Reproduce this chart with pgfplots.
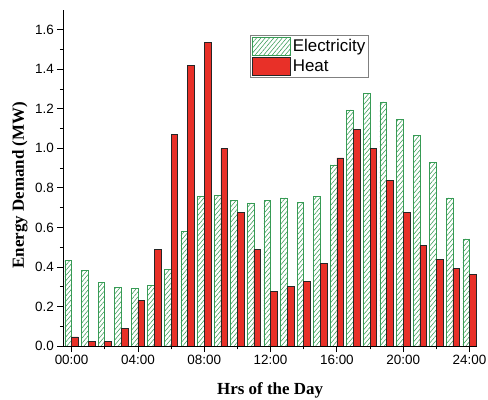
\documentclass[border=0pt]{standalone}
\usepackage{fontspec}
\setmainfont{Liberation Sans}
\newfontfamily\timesfont{Liberation Serif}
\usepackage{pgfplots}
\usepackage{pgfplotstable}
\pgfplotsset{compat=1.18}
\usetikzlibrary{patterns.meta}
\definecolor{elgreen}{RGB}{55,155,85}
\definecolor{heatred}{RGB}{232,48,40}
\pgfplotstableread{
hour elec heat
0 0.435 0.046
1 0.381 0.022
2 0.321 0.022
3 0.295 0.091
4 0.290 0.231
5 0.307 0.489
6 0.388 1.070
7 0.581 1.418
8 0.756 1.536
9 0.761 0.999
10 0.738 0.675
11 0.724 0.489
12 0.737 0.278
13 0.749 0.302
14 0.727 0.326
15 0.758 0.419
16 0.916 0.952
17 1.195 1.094
18 1.279 0.999
19 1.235 0.837
20 1.146 0.675
21 1.067 0.511
22 0.930 0.440
23 0.749 0.393
24 0.542 0.363
}\datatable
\begin{document}
\begin{tikzpicture}
\useasboundingbox (0,0) rectangle (488bp,400bp);
\begin{axis}[
  at={(63.3bp,54bp)}, anchor=south west,
  scale only axis, width=413.7bp, height=336bp,
  xmin=-0.5, xmax=24.45, ymin=0, ymax=1.70,
  ybar, bar width=6.7bp,
  legend image code/.code={\draw[#1] (0bp,-8.8bp) rectangle (38bp,8.8bp);},
  axis lines=left, axis line style={-, line width=0.8pt},
  tick align=outside,
  tick style={black, line width=0.8pt},
  major tick length=6bp, minor tick length=3.3bp,
  xtick={0,4,8,12,16,20,24},
  xticklabels={00:00,04:00,08:00,12:00,16:00,20:00,24:00},
  minor xtick={2,6,10,14,18,22},
  ytick={0,0.2,0.4,0.6,0.8,1.0,1.2,1.4,1.6},
  minor ytick={0.1,0.3,0.5,0.7,0.9,1.1,1.3,1.5},
  yticklabel style={/pgf/number format/.cd, fixed, fixed zerofill, precision=1, assume math mode=true},
  tick label style={font=\fontsize{13.5}{16}\selectfont},
  xlabel={\timesfont\bfseries Hrs of the Day},
  ylabel={\timesfont\bfseries Energy Demand (MW)},
  label style={font=\fontsize{17}{20}\selectfont},
  xlabel style={at={(axis description cs:0.5,-0.143)}, anchor=base},
  ylabel style={at={(axis description cs:-0.105,0.479)}, anchor=center},
  legend style={at={(0.452,0.925)}, anchor=north west, draw=gray, line width=0.8pt,
    font=\fontsize{17}{19}\selectfont, inner sep=1.5bp, row sep=2bp},
  legend cell align=left,
]
\addplot[bar shift=-3.35bp, draw=elgreen, line width=0.6pt,
  pattern={Lines[angle=50,distance=3.3pt,line width=0.55pt]}, pattern color=elgreen]
  table[x=hour,y=elec]{\datatable};
\addlegendentry{Electricity}
\addplot[bar shift=3.35bp, draw=black!85, line width=0.6pt, fill=heatred]
  table[x=hour,y=heat]{\datatable};
\addlegendentry{Heat}
\end{axis}
\end{tikzpicture}
\end{document}
